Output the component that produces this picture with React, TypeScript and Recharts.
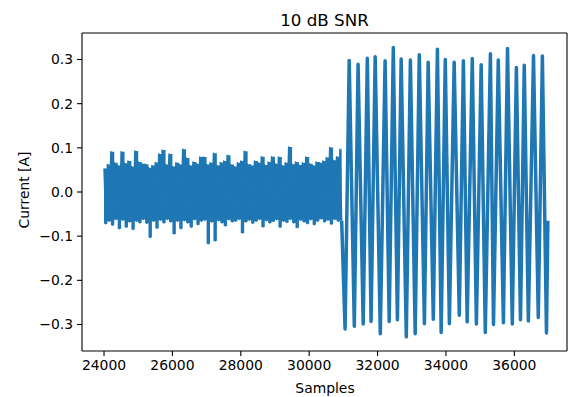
import { ComposedChart, Line, Area, XAxis, YAxis, ReferenceLine } from 'recharts';

const BLUE = '#1f77b4';

// noise section: upper / lower excursions every 100 samples from 24000
const noiseStart = 24000;
const noiseStep = 100;
const noiseHigh = [
  0.053, 0.062, 0.091, 0.066, 0.06, 0.091, 0.065, 0.07, 0.058, 0.093,
  0.068, 0.064, 0.063, 0.055, 0.06, 0.067, 0.086, 0.095, 0.062, 0.086,
  0.058, 0.066, 0.062, 0.097, 0.077, 0.06, 0.068, 0.064, 0.079, 0.079,
  0.062, 0.066, 0.088, 0.06, 0.067, 0.07, 0.083, 0.062, 0.058, 0.066,
  0.07, 0.092, 0.063, 0.06, 0.07, 0.066, 0.08, 0.061, 0.068, 0.08,
  0.064, 0.079, 0.06, 0.066, 0.102, 0.063, 0.068, 0.061, 0.066, 0.079,
  0.064, 0.06, 0.068, 0.066, 0.07, 0.078, 0.101, 0.072, 0.08, 0.097,
];
const noiseLow = [
  -0.072, -0.066, -0.075, -0.062, -0.083, -0.064, -0.08, -0.068, -0.085, -0.066,
  -0.07, -0.062, -0.071, -0.103, -0.066, -0.082, -0.064, -0.07, -0.062, -0.068,
  -0.095, -0.066, -0.083, -0.065, -0.07, -0.08, -0.063, -0.074, -0.066, -0.064,
  -0.117, -0.068, -0.111, -0.065, -0.07, -0.077, -0.063, -0.068, -0.066, -0.062,
  -0.093, -0.068, -0.064, -0.071, -0.066, -0.062, -0.079, -0.065, -0.07, -0.067,
  -0.063, -0.08, -0.066, -0.069, -0.062, -0.07, -0.081, -0.064, -0.068, -0.072,
  -0.063, -0.074, -0.066, -0.061, -0.068, -0.064, -0.073, -0.062, -0.066, -0.065,
];

// tone section: troughs and crests of each cycle
const troughSamples = [
  31050, 31320, 31580, 31810, 32080, 32340, 32580, 32840, 33100, 33370, 33630, 33860,
  34100, 34390, 34620, 34890, 35150, 35390, 35680, 35940, 36180, 36410, 36700, 36940,
];
const troughValues = [
  -0.31, -0.304, -0.299, -0.293, -0.321, -0.293, -0.289, -0.328, -0.321, -0.298, -0.288, -0.318,
  -0.298, -0.279, -0.294, -0.299, -0.318, -0.3, -0.296, -0.299, -0.289, -0.292, -0.284, -0.319,
];
const peakSamples = [
  31170, 31430, 31700, 31930, 32220, 32460, 32690, 32960, 33220, 33480, 33750, 33980,
  34240, 34510, 34770, 35030, 35300, 35530, 35800, 36060, 36290, 36560, 36820,
];
const peakValues = [
  0.298, 0.289, 0.303, 0.306, 0.297, 0.327, 0.301, 0.299, 0.311, 0.294, 0.323, 0.3,
  0.294, 0.297, 0.302, 0.288, 0.313, 0.299, 0.325, 0.282, 0.287, 0.309, 0.308,
];
const lastSample = 36980;
const lastValue = -0.065;

const xTicks = [24000, 26000, 28000, 30000, 32000, 34000, 36000];
const yTicks = [-0.3, -0.2, -0.1, 0.0, 0.1, 0.2, 0.3];

const X_DOMAIN = [23356, 37540];
const Y_DOMAIN = [-0.36, 0.36];

// zigzag between the excursions
const noiseData: { x: number; y: number }[] = [];
noiseHigh.forEach((h, i) => {
  noiseData.push({ x: noiseStart + i * noiseStep, y: h });
  noiseData.push({ x: noiseStart + i * noiseStep + noiseStep / 2, y: noiseLow[i] });
});

// solid band of the same excursions, one column per 100 samples
const bandData = noiseHigh.map((h, i) => ({ x: noiseStart + i * noiseStep, band: [noiseLow[i], h] }));
bandData.push({ x: noiseStart + noiseHigh.length * noiseStep - noiseStep / 2, band: [noiseLow[noiseLow.length - 1], noiseHigh[noiseHigh.length - 1]] });

const toneData: { x: number; y: number }[] = [noiseData[noiseData.length - 1]];
troughSamples.forEach((s, i) => {
  toneData.push({ x: s, y: troughValues[i] });
  if (i < peakSamples.length) toneData.push({ x: peakSamples[i], y: peakValues[i] });
});
toneData.push({ x: lastSample, y: lastValue });

const font = 'DejaVu Sans, sans-serif';
const tickStyle = { fontSize: 13.9, fill: '#000', fontFamily: font };
const fmtY = (v: number) => (v < 0 ? '\u2212' + Math.abs(v).toFixed(1) : v.toFixed(1));
const spine = { stroke: '#000', strokeWidth: 1.1 };

export default function App() {
  return (
    <div style={{ position: 'absolute', left: 0, top: 0, width: 569, height: 397, background: '#fff', fontFamily: font }}>
      <ComposedChart width={569} height={397} margin={{ top: 33, right: 2, bottom: 0, left: 0 }}>
        <XAxis
          type="number"
          dataKey="x"
          domain={X_DOMAIN}
          ticks={xTicks}
          height={46}
          allowDataOverflow
          tickSize={5}
          tickMargin={4}
          tick={tickStyle}
          tickLine={spine}
          axisLine={spine}
        />
        <YAxis
          type="number"
          domain={Y_DOMAIN}
          ticks={yTicks}
          width={82}
          allowDataOverflow
          tickFormatter={fmtY}
          tickSize={5}
          tickMargin={4}
          tick={tickStyle}
          tickLine={spine}
          axisLine={spine}
        />
        <Area
          data={bandData}
          dataKey="band"
          type="stepAfter"
          fill={BLUE}
          fillOpacity={1}
          stroke="none"
          dot={false}
          activeDot={false}
          isAnimationActive={false}
        />
        <Line data={noiseData} dataKey="y" stroke={BLUE} strokeWidth={1.5} dot={false} isAnimationActive={false} strokeLinejoin="round" />
        <Line data={toneData} dataKey="y" stroke={BLUE} strokeWidth={3.5} dot={false} isAnimationActive={false} strokeLinejoin="round" />
        <ReferenceLine y={Y_DOMAIN[1]} stroke="#000" strokeWidth={1.1} />
        <ReferenceLine x={X_DOMAIN[1]} stroke="#000" strokeWidth={1.1} />
      </ComposedChart>
      <div style={{ position: 'absolute', left: 224.5, width: 200, top: 10, textAlign: 'center', fontSize: 16.7, whiteSpace: 'nowrap' }}>10 dB SNR</div>
      <div style={{ position: 'absolute', left: 225, width: 200, top: 379.6, textAlign: 'center', fontSize: 13.9, whiteSpace: 'nowrap' }}>Samples</div>
      <div
        style={{
          position: 'absolute',
          left: 24 - 100,
          top: 190 - 8.1,
          width: 200,
          textAlign: 'center',
          fontSize: 13.9,
          whiteSpace: 'nowrap',
          transform: 'rotate(-90deg)',
        }}
      >
        Current [A]
      </div>
    </div>
  );
}
